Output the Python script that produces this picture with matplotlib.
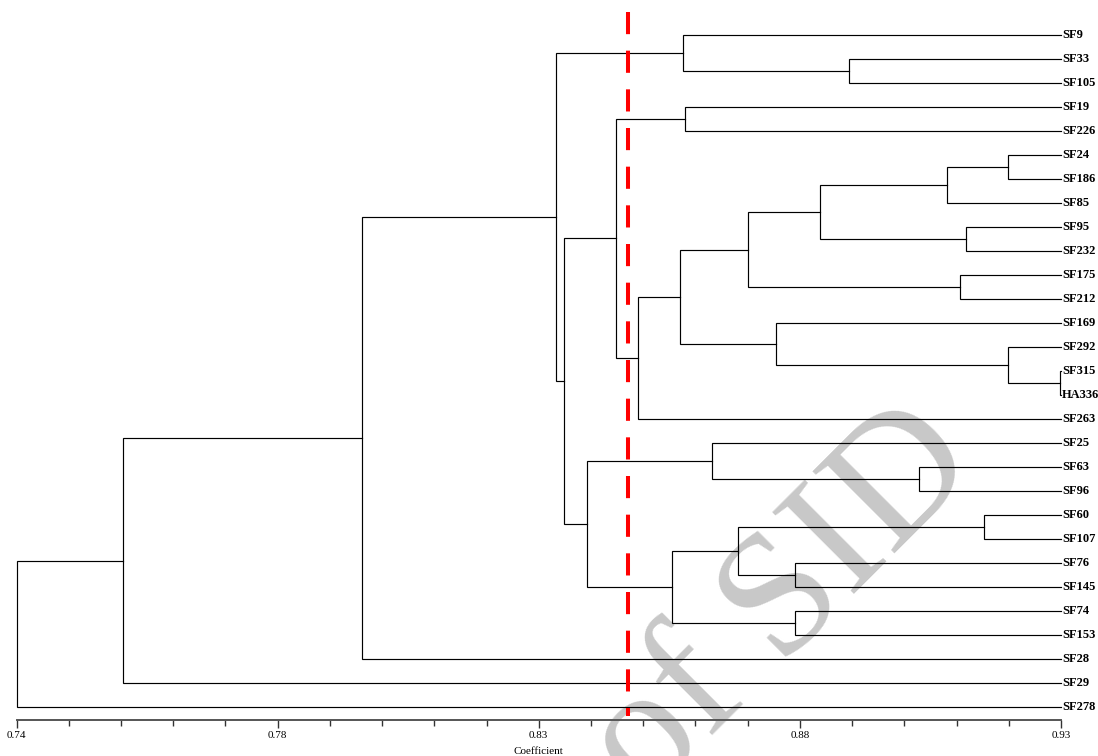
import matplotlib

matplotlib.use("Agg")
import matplotlib.pyplot as plt
import numpy as np

# leaf order top -> bottom
leaves = ["SF9", "SF33", "SF105", "SF19", "SF226", "SF24", "SF186", "SF85",
          "SF95", "SF232", "SF175", "SF212", "SF169", "SF292", "SF315", "HA336",
          "SF263", "SF25", "SF63", "SF96", "SF60", "SF107", "SF76", "SF145",
          "SF74", "SF153", "SF28", "SF29", "SF278"]

# linkage rows (scipy style): child a, child b, similarity coefficient.
# ids < 29 are leaves, id 29 + k is the node made by row k
merge_a = [1, 0, 3, 5, 32, 8, 33, 10, 35, 14, 13, 12, 37, 41, 31, 18, 17, 20,
           22, 46, 24, 48, 45, 43, 30, 53, 54, 55]
merge_b = [2, 29, 4, 6, 7, 9, 34, 11, 36, 15, 38, 39, 40, 16, 42, 19, 44, 21,
           23, 47, 25, 49, 50, 51, 52, 26, 27, 28]
merge_h = [0.8914, 0.8612, 0.8616, 0.9204, 0.9093, 0.9127, 0.8862, 0.9116,
           0.8731, 0.9298, 0.9204, 0.8782, 0.8607, 0.8531, 0.8491, 0.9042,
           0.8665, 0.9160, 0.8816, 0.8712, 0.8816, 0.8592, 0.8438, 0.8396,
           0.8381, 0.8028, 0.7594, 0.7400]

cut_level = 0.8513

x_min, x_max = 0.74, 0.93
tick_labels = ["0.74", "0.78", "0.83", "0.88", "0.93"]

W, H = 1098, 756
fig = plt.figure(figsize=(W / 100, H / 100), dpi=100)
ax = fig.add_axes([16.5 / W, (H - 720) / H, (1061 - 16.5) / W, 720 / H])
ax.patch.set_visible(False)

n = len(leaves)
node_x = [x_max] * n
node_y = list(range(n))
for a, b, h in zip(merge_a, merge_b, merge_h):
    ya, yb = node_y[a], node_y[b]
    ax.plot([node_x[a], h, h, node_x[b]], [ya, ya, yb, yb],
            color="black", lw=0.85, solid_joinstyle="miter", zorder=2,
            clip_on=False)
    node_x.append(h)
    node_y.append((ya + yb) / 2)

for i, name in enumerate(leaves):
    ax.text(x_max + 0.0002, i, name, ha="left", va="center", fontsize=9,
            fontweight="bold", family="Liberation Serif", zorder=3)

# pixel rows: leaf i sits at y = 35 + 24 i, axes spans 0..720 px
ax.set_ylim((720 - 35) / 24, -35 / 24)
ax.set_xlim(x_min, x_max)

ax.plot([cut_level, cut_level], [(12 - 35) / 24, (716 - 35) / 24],
        color="#ff0000", lw=2.9, dashes=(5.5, 4.1), dash_capstyle="butt",
        zorder=4, clip_on=False)

for side in ("top", "left", "right"):
    ax.spines[side].set_visible(False)
ax.spines["bottom"].set_color("#555555")
ax.spines["bottom"].set_linewidth(1.4)
ax.set_yticks([])
ax.set_xticks(np.linspace(x_min, x_max, len(tick_labels)))
ax.set_xticklabels(tick_labels, family="Liberation Serif", fontsize=8)
ax.set_xticks(np.linspace(x_min, x_max, 21), minor=True)
ax.tick_params(axis="x", which="major", length=5.5, width=1, color="#333333",
               pad=2.5)
ax.tick_params(axis="x", which="minor", length=4, width=1, color="#333333")
ax.set_xlabel("Coefficient", family="Liberation Serif", fontsize=8,
              labelpad=5)

# faint watermark behind the tree
ax.text(982 / W, 1 - 467 / H, "Archive of SID", transform=fig.transFigure,
        rotation=45, rotation_mode="anchor", ha="right", va="baseline",
        fontsize=127, family="Liberation Serif", color="#c8c8c8", zorder=0,
        clip_on=False)

fig.savefig("out.png", dpi=100)
